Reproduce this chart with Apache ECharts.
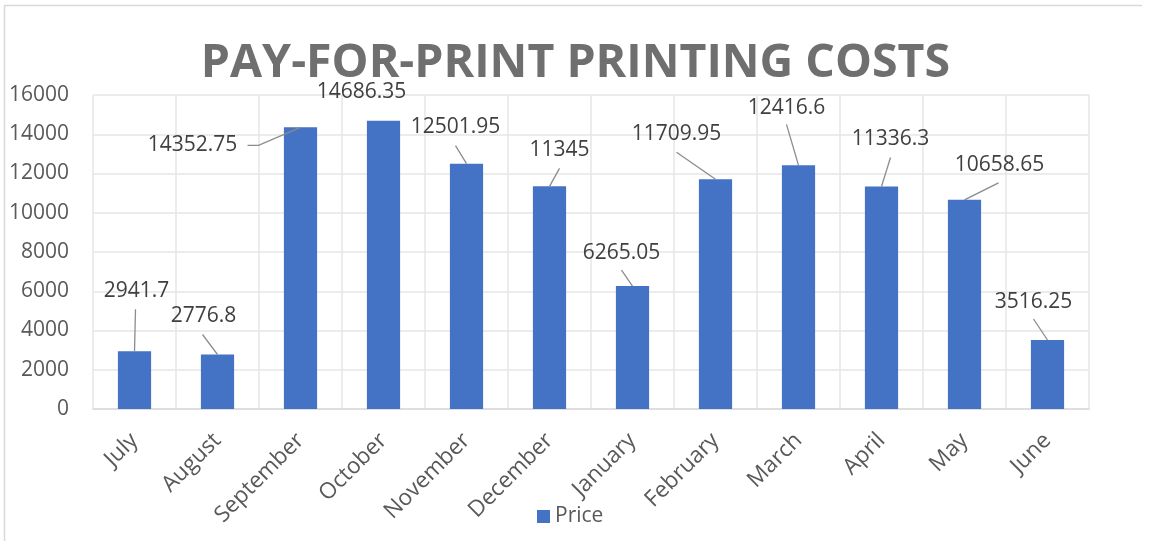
<!DOCTYPE html>
<html>
<head>
<meta charset="utf-8">
<script src="https://cdn.jsdelivr.net/npm/echarts@6/dist/echarts.min.js"></script>
<style>
html,body{margin:0;padding:0;background:#fff;}
#chart{width:1151px;height:541px;}
</style>
</head>
<body>
<div id="chart"></div>
<script>
// ---- data ----
const categories = ['July','August','September','October','November','December','January','February','March','April','May','June'];
const priceValues = [2941.7, 2776.8, 14352.75, 14686.35, 12501.95, 11345, 6265.05, 11709.95, 12416.6, 11336.3, 10658.65, 3516.25];
const seriesName = 'Price';
const titleText = 'PAY-FOR-PRINT PRINTING COSTS';

// ---- label placement (offset of label centre from bar top centre, px) ----
const labelOffsets = [[2,-60],[-14,-38],[-108,18],[-22,-29],[-11,-37],[10,-36],[-11,-33],[-39,-45],[-12,-57],[9,-48],[35,-35],[-14,-38]];
// leader line start relative to label centre (null = no leader); stub = horizontal run before bending
const leaderStart = [[-1,18],[-1,18],[55,0],null,[0,19],[0,18],[0,17],[0,18],[0,16],[0,19],[-1,18],[0,17]];
const leaderStub = [0,0,11,0,0,0,0,0,0,0,0,0];

const FONT = 'Open Sans';
const chart = echarts.init(document.getElementById('chart'));
const option = {
  animation: false,
  backgroundColor: '#ffffff',
  title: {
    text: titleText,
    left: 'center',
    top: 35,
    textStyle: {fontFamily: FONT, fontSize: 46.5, fontWeight: 'bold', color: '#6f6f6f'}
  },
  graphic: [{
    type: 'polyline',
    shape: {points: [[4.5, 545], [4.5, 5.5], [1142, 5.5]]},
    style: {stroke: '#d9d9d9', lineWidth: 1.5, fill: null},
    silent: true
  }],
  legend: {
    bottom: 9,
    left: 532,
    itemWidth: 13,
    itemHeight: 13,
    itemGap: 10,
    icon: 'rect',
    textStyle: {fontFamily: FONT, fontSize: 21, color: '#595959'},
    data: [seriesName]
  },
  grid: {left: 93, right: 62, top: 95, bottom: 132, containLabel: false},
  xAxis: {
    type: 'category',
    data: categories,
    axisLine: {show: true, lineStyle: {color: '#d9d9d9', width: 1.5}},
    axisTick: {show: false},
    splitLine: {show: true, lineStyle: {color: '#e6e6e6', width: 1.5}},
    axisLabel: {rotate: 45, margin: 28, fontFamily: FONT, fontSize: 22.5, color: '#595959', interval: 0}
  },
  yAxis: {
    type: 'value',
    min: 0, max: 16000, interval: 2000,
    axisLine: {show: false},
    axisTick: {show: false},
    splitLine: {lineStyle: {color: '#e6e6e6', width: 1.5}},
    axisLabel: {margin: 24, fontFamily: FONT, fontSize: 21, color: '#595959', formatter: v => String(v)}
  },
  series: [{
    name: seriesName,
    type: 'bar',
    barWidth: '40%',
    data: priceValues,
    itemStyle: {color: '#4472C4'},
    label: {
      show: true,
      position: 'top',
      fontFamily: FONT,
      fontSize: 21,
      color: '#404040'
    },
    labelLayout: function (params) {
      const off = labelOffsets[params.dataIndex];
      const r = params.rect;
      return {
        x: r.x + r.width / 2 + off[0],
        y: r.y + off[1],
        align: 'center',
        verticalAlign: 'middle'
      };
    }
  }, {
    name: 'leaders',
    type: 'custom',
    silent: true,
    z: 3,
    data: priceValues.map((v, i) => [i, v]),
    renderItem: function (params, api) {
      const i = params.dataIndex;
      const st = leaderStart[i];
      if (!st) return null;
      const top = api.coord([api.value(0), api.value(1)]);
      const off = labelOffsets[i];
      const cx = top[0] + off[0], cy = top[1] + off[1];
      const p0 = [cx + st[0], cy + st[1]];
      const pts = [p0];
      if (leaderStub[i]) pts.push([p0[0] + leaderStub[i], p0[1]]);
      pts.push([top[0], top[1]]);
      return {
        type: 'polyline',
        shape: {points: pts},
        style: {stroke: '#8c8c8c', lineWidth: 1.3, fill: null}
      };
    }
  }]
};
chart.setOption(option);
</script>
</body>
</html>
